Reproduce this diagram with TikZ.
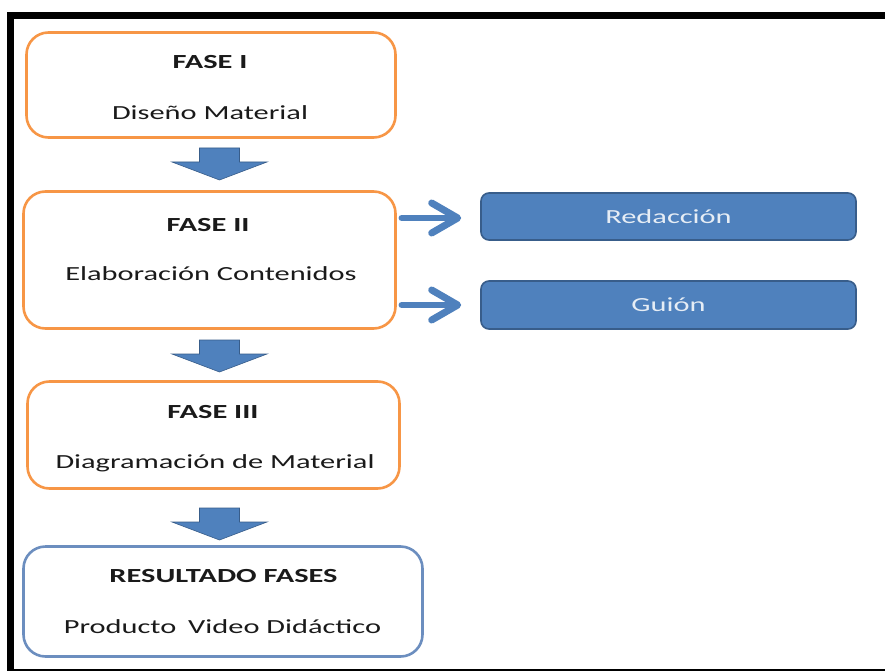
\documentclass[tikz,border=0pt]{standalone}
\usepackage{fontspec}
\setmainfont{Carlito}[FakeStretch=1.52]
\usetikzlibrary{arrows.meta,calc}
\definecolor{orangeb}{HTML}{F79646}
\definecolor{blueA}{HTML}{4F81BD}
\definecolor{blueD}{HTML}{385D8A}
\definecolor{blueR}{HTML}{6C8EBF}
\definecolor{txtc}{HTML}{1A1A1A}
\definecolor{ltxt}{HTML}{E6EDF5}
\begin{document}
\begin{tikzpicture}[x=1pt,y=-1pt,
  phase/.style={draw=orangeb, line width=2.6pt, rounded corners=22pt, fill=white, inner sep=0pt},
  result/.style={phase, draw=blueR},
  subbox/.style={draw=blueD, line width=1.6pt, fill=blueA, rounded corners=8pt, inner sep=0pt,
    minimum width=375pt, text=ltxt, font=\fontsize{20}{24}\selectfont},
  ttl/.style={anchor=base, text=txtc, font=\fontsize{20}{24}\selectfont\bfseries, inner sep=0pt},
  sub/.style={anchor=base, text=txtc, font=\fontsize{20}{24}\selectfont, inner sep=0pt},
  sidearr/.style={draw=blueA, line width=6.5pt, line cap=round,
    -{Straight Barb[round, length=26pt, width=30pt, line width=7pt]}},
  blockarrow/.pic={\filldraw[fill=blueA, draw=blueD, line width=0.6pt]
    (-20,0) -- (20,0) -- (20,14) -- (47.5,14) -- (0,32) -- (-47.5,14) -- (-20,14) -- cycle;}
]
\useasboundingbox (0,0) rectangle (885,671);
\clip (0,0) rectangle (885,671);
\fill[white] (0,0) rectangle (885,671);
% frame
\draw[line width=7pt] (10.5,15.5) rectangle (892,672);

% boxes
\node[phase, minimum width=369pt, minimum height=105pt] (f1) at (211,85) {};
\node[phase, minimum width=372pt, minimum height=137pt] (f2) at (209.5,260) {};
\node[phase, minimum width=372pt, minimum height=107pt] (f3) at (213.5,435) {};
\node[result, minimum width=399pt, minimum height=110pt] (res) at (223,601.5) {};

\node[ttl] (f1t) at (210,69) {FASE I};
\node[sub] (f1s) at (210,120) {Diseño Material};
\node[ttl] (f2t) at (208,231) {FASE II};
\node[sub] (f2s) at (211,280) {Elaboración Contenidos};
\node[ttl] (f3t) at (213,418) {FASE III};
\node[sub] (f3s) at (215,468) {Diagramación de Material};
\node[ttl] (rt) at (223.5,582) {RESULTADO FASES};
\node[sub] (rs) at (222.5,633) {Producto\hspace{5pt} Video Didáctico};

% right boxes
\node[subbox, minimum height=47pt] (red) at (668.5,216.5) {Redacción};
\node[subbox, minimum height=48pt] (gui) at (668.5,305) {Guión};

% side arrows
\draw[sidearr] ([xshift=5pt]f2.east |- 0,218) -- ([xshift=-19pt]red.west |- 0,218);
\draw[sidearr] ([xshift=5pt]f2.east |- gui.west) -- ([xshift=-19pt]gui.west);

% block arrows
\coordinate (a1) at (219.5,148);
\coordinate (a2) at (219.5,340);
\coordinate (a3) at (219.5,508);
\pic at (a1) {blockarrow};
\pic at (a2) {blockarrow};
\pic at (a3) {blockarrow};
\end{tikzpicture}
\end{document}
